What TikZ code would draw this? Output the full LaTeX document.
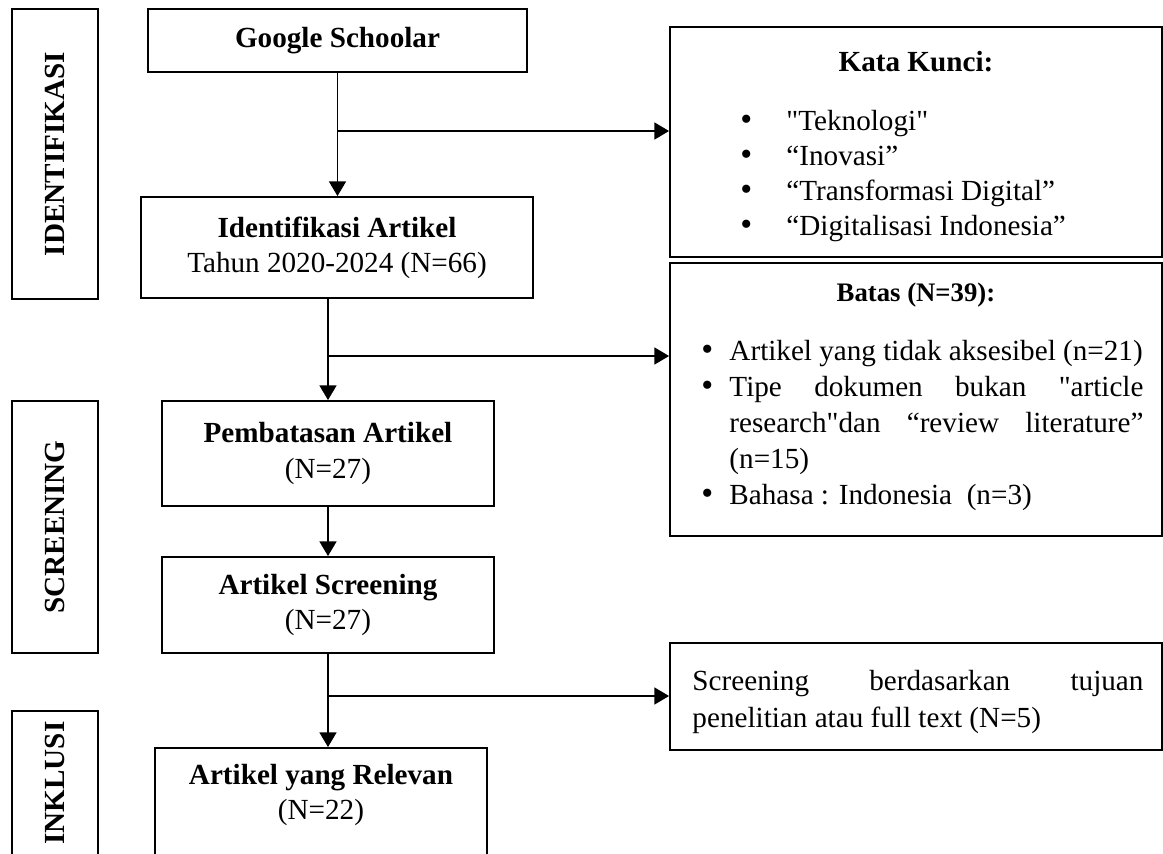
\documentclass[tikz,border=0pt]{standalone}
\usepackage{fontspec}
\setmainfont{Liberation Serif}
\newfontfamily\rawfont{Liberation Serif}
\usetikzlibrary{arrows.meta}
\newlength\pu
\setlength\pu{0.4115pt}
\newcommand\dq{{\rawfont"}}
\newcommand\itm[1]{\makebox[#1\pu][l]{{\fontsize{14}{14}\selectfont\textbullet}}}

\begin{document}
\begin{tikzpicture}[x=0.4115pt,y=-0.4115pt,
  every node/.style={font=\fontsize{12}{14.5}\selectfont},
  box/.style 2 args={draw,line width=0.8pt,minimum width=#1*\pu,minimum height=#2*\pu,inner sep=0pt,align=center},
  sidebox/.style 2 args={box={#1}{#2},rotate=90,font=\fontsize{12}{14.5}\selectfont\bfseries},
  line/.style={anchor=base west,inner sep=0pt},
  arr/.style={-{Triangle[length=6pt,width=7pt]},line width=0.5pt}]
\useasboundingbox (0,0) rectangle (1163,854);

% tahap
\node (phid) [sidebox={290}{86}] at (55,154) {IDENTIFIKASI};
\node (phscr) [sidebox={252}{86}] at (55,527) {SCREENING};
\node (phinc) [sidebox={144}{86}] at (55,783) {INKLUSI};

% alur utama
\node (google) [box={379}{63}] at (337.5,40.5) {\textbf{Google Schoolar}};
\node (ident) [box={392}{101}] at (337,247.5) {\textbf{Identifikasi Artikel}\\Tahun 2020-2024 (N=66)};
\node (limit) [box={332}{105}] at (328,453.5) {\textbf{Pembatasan Artikel}\\(N=27)};
\node (screen) [box={332}{96}] at (328,605) {\textbf{Artikel Screening}\\(N=27)};
\node (relevan) [box={332}{134}] at (321,815) {\textbf{Artikel yang Relevan}\\(N=22)\\\strut};

% kotak kanan
\node (kata) [box={492}{230}] at (916,142) {};
\node (batas) [box={492}{273}] at (916,399.5) {};
\node (tujuan) [box={492}{107}] at (916,696.5) {};

\node [anchor=base] at (916,71) {\textbf{Kata Kunci:}};
\foreach \kw [count=\i] in {\dq Teknologi\dq, “Inovasi”, “Transformasi Digital”, “Digitalisasi Indonesia”}
  \node [line] at (740,95+35*\i) {\itm{46}\kw};

\node [anchor=base] at (916,301) {\fontsize{11}{13}\selectfont\textbf{Batas (N=39):}};
\node [line] at (701,360) {\itm{28}Artikel yang tidak aksesibel (n=21)};
\node [line] at (701,396) {\itm{28}\makebox[414\pu][s]{Tipe dokumen bukan \dq article}};
\node [line] at (729,432) {\makebox[414\pu][s]{research\dq dan “review literature”}};
\node [line] at (729,468) {(n=15)};
\node [line] at (701,504) {\itm{28}Bahasa : Indonesia~~(n=3)};

\node [line] at (692,690) {\makebox[451\pu][s]{Screening berdasarkan tujuan}};
\node [line] at (692,727) {penelitian atau full text (N=5)};

% panah
\coordinate (j1) at (google.south |- 0,131);
\coordinate (j2) at (limit.north |- 0,356);
\coordinate (j3) at (screen.south |- 0,696);
\draw[arr] (google.south) -- (google.south |- ident.north);
\draw[arr] (j1) -- (j1 -| kata.west);
\draw[arr] (ident.south -| limit.north) -- (limit.north);
\draw[arr] (j2) -- (j2 -| batas.west);
\draw[arr] (limit.south) -- (screen.north);
\draw[arr] (screen.south) -- (screen.south |- relevan.north);
\draw[arr] (j3) -- (j3 -| tujuan.west);
\end{tikzpicture}
\end{document}
